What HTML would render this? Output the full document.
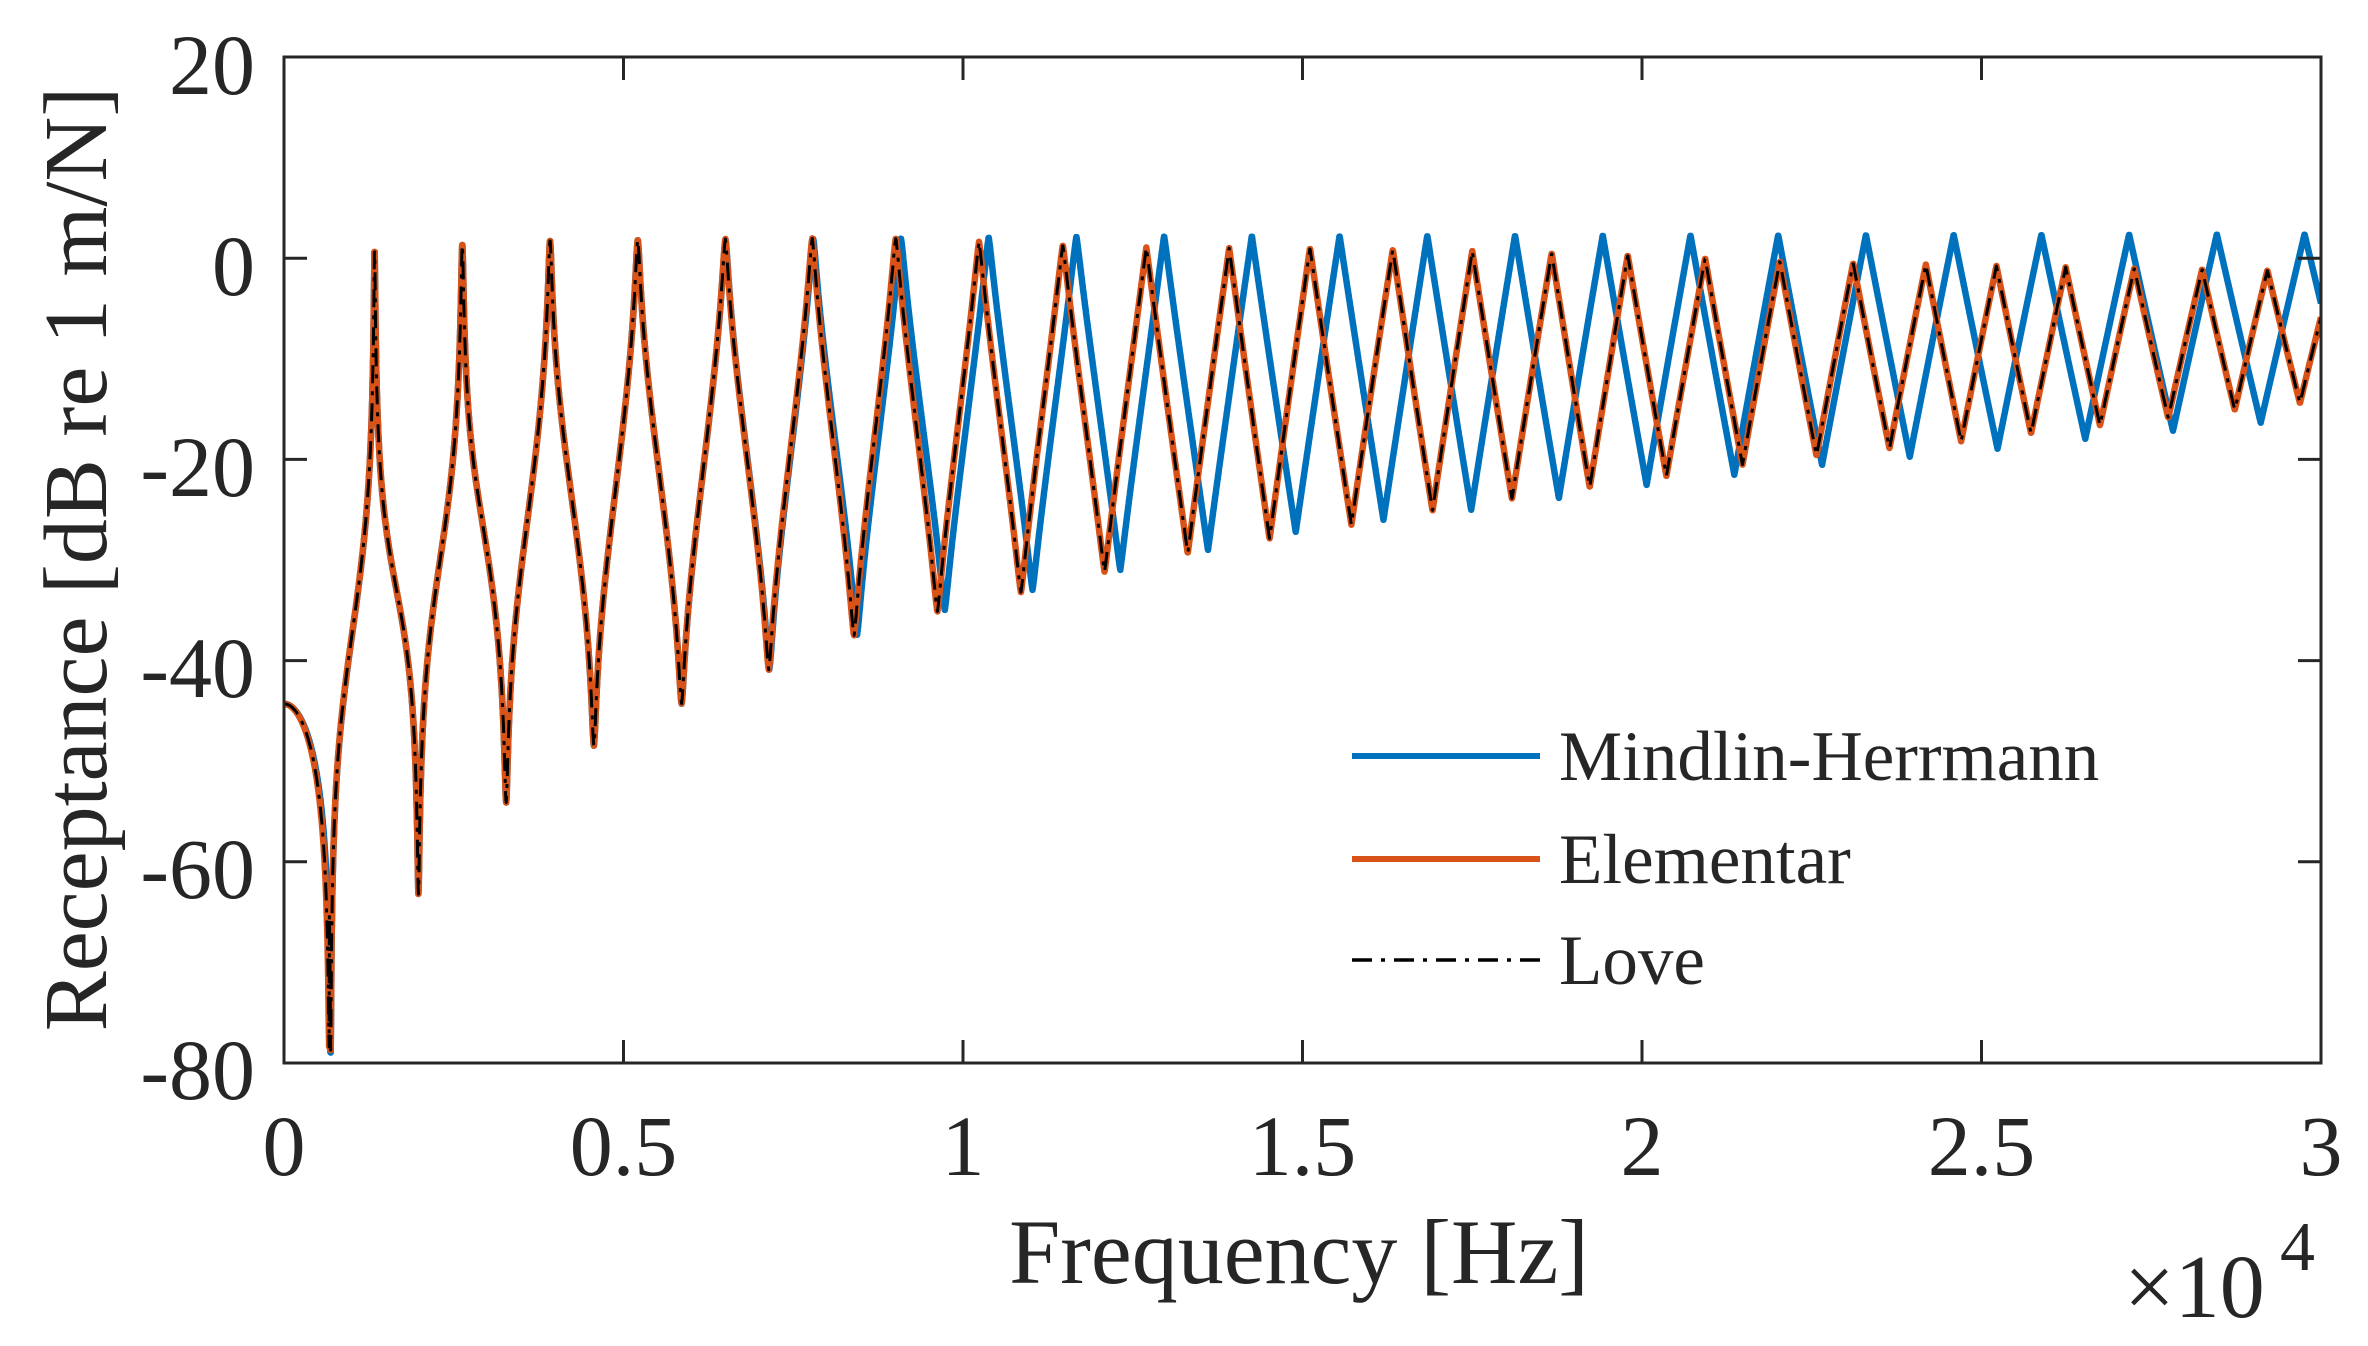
<!DOCTYPE html>
<html><head><meta charset="utf-8">
<style>
html,body{margin:0;padding:0;background:#fff;}
svg{display:block;}
text{font-family:"Liberation Serif","Times New Roman",serif;fill:#262626;}
</style></head>
<body>
<svg id="s" width="2368" height="1346" viewBox="0 0 2368 1346" xmlns="http://www.w3.org/2000/svg">
<rect width="2368" height="1346" fill="#fff"/>
<defs><clipPath id="c"><rect x="284" y="57" width="2037" height="1006"/></clipPath></defs>
<g id="curves" clip-path="url(#c)"></g>
<rect x="284" y="57" width="2037" height="1006" fill="none" stroke="#262626" stroke-width="3"/>
<g id="ticks" stroke="#262626" stroke-width="3"></g>
<g font-size="86" text-anchor="end">
<text x="255" y="94">20</text>
<text x="255" y="295">0</text>
<text x="255" y="496">-20</text>
<text x="255" y="697">-40</text>
<text x="255" y="898">-60</text>
<text x="255" y="1099">-80</text>
</g>
<g font-size="86" text-anchor="middle">
<text x="284" y="1175">0</text>
<text x="623.5" y="1175">0.5</text>
<text x="963" y="1175">1</text>
<text x="1302.5" y="1175">1.5</text>
<text x="1642" y="1175">2</text>
<text x="1981.5" y="1175">2.5</text>
<text x="2321" y="1175">3</text>
</g>
<text x="1299" y="1283" font-size="92" text-anchor="middle">Frequency [Hz]</text>
<text x="2124" y="1317" font-size="90">×10</text>
<text x="2280" y="1270" font-size="70">4</text>
<text transform="translate(106,559) rotate(-90)" font-size="90" text-anchor="middle">Receptance [dB re 1 m/N]</text>
<line x1="1352" y1="756" x2="1540" y2="756" stroke="#0072BD" stroke-width="6"/>
<line x1="1352" y1="859" x2="1540" y2="859" stroke="#D95319" stroke-width="6"/>
<line x1="1352" y1="960" x2="1540" y2="960" stroke="#000" stroke-width="3.5" stroke-dasharray="20,9,4,9"/>
<g font-size="71">
<text x="1559" y="780">Mindlin-Herrmann</text>
<text x="1559" y="883">Elementar</text>
<text x="1559" y="984">Love</text>
</g>
</svg>
<script>
(function(){
var NS="http://www.w3.org/2000/svg";
function X(f){return 284+f/30000*2037;}
function Y(d){return 57+(20-d)*10.06;}
function interp(t,x){
  if(x<=t[0][0])return t[0][1];
  for(var i=1;i<t.length;i++){if(x<=t[i][0]){var a=t[i-1],b=t[i];return a[1]+(b[1]-a[1])*(x-a[0])/(b[0]-a[0]);}}
  var a=t[t.length-2],b=t[t.length-1];return b[1]+(b[1]-a[1])*(x-b[0])/(b[0]-a[0]);
}
var dipE=[[0.0667,-79],[0.198,-63.2],[0.325,-54.2],[0.455,-48.5],[0.585,-44.3],[0.71,-41],[0.84,-37.5],[0.97,-35],[1.1,-33],[1.22,-31],[1.34,-29.2],[1.46,-27.8],[1.58,-26.4],[1.7,-25],[1.82,-23.8],[1.95,-22.5],[2.07,-21.3],[2.2,-20],[2.35,-19],[2.5,-18],[2.65,-16.8],[2.77,-15.9],[2.87,-15.1],[2.97,-14.4],[3.0,-14.2]];
var dipM=[[0.0685,-79],[0.198,-63.2],[0.325,-54.2],[0.455,-48.5],[0.585,-44.3],[0.71,-41],[0.84,-37.5],[0.97,-35],[1.1,-33],[1.23,-31],[1.36,-29],[1.49,-27.2],[1.62,-26],[1.75,-25],[1.88,-23.8],[2.01,-22.5],[2.14,-21.5],[2.27,-20.5],[2.4,-19.7],[2.53,-18.9],[2.66,-17.9],[2.79,-17.1],[2.92,-16.3],[3.0,-16]];
var pkE=[[0,1.0],[0.13,1.0],[0.26,1.4],[0.4,1.8],[0.9,2.0],[1.03,1.6],[1.15,1.3],[1.3,1.0],[1.51,1.0],[1.7,0.8],[1.98,0.3],[2.24,-0.4],[2.62,-0.9],[2.92,-1.2],[3.0,-1.3]];
var pkM=[[0,1.0],[0.13,1.0],[0.26,1.4],[0.4,1.8],[0.9,2.0],[1.2,2.2],[3.0,2.4]];
var peE=[1334,2626,3918,5210,6500,7780,9010,10236,11470,12700,13920,15110,16330,17500,18670,19790,20930,22030,23110,24180,25220,26240,27250,28250,29210,30170];
var tE=[[0,-0.532]];for(var i=0;i<peE.length;i++)tE.push([peE[i],i+0.5]);
function uE(f){return interp(tE,f);}
function uM(f){return (f-1334)/1292+0.5;}
function val(f,uf,dip,pk,f0){
  var x=f/1e4;
  if(f<f0){
    var d0=Math.pow(10,-34.7/20);var c=Math.cos(Math.PI*f/(2*f0));
    return -44.3+20*Math.log10(Math.sqrt(c*c+d0*d0));
  }
  var D=interp(dip,x),P=interp(pk,x);
  var half=(P-D)/2,base=(P+D)/2;
  var d=Math.pow(10,-half/20);
  var u=uf(f);var s=Math.sin(Math.PI*u),c2=Math.cos(Math.PI*u);
  var lg=base+20*Math.log10(Math.sqrt(s*s+d*d)/Math.sqrt(c2*c2+d*d));
  var fr=u-Math.round(u);var tri=D+(P-D)*2*Math.abs(fr);
  var w=Math.max(0,Math.min(1,(half-15)/15));
  return w*lg+(1-w)*tri;
}
function path(uf,dip,pk,f0){
  var p=[];
  for(var f=0;f<=30000;f+=4){
    var v=val(f,uf,dip,pk,f0);
    p.push((p.length?"L":"M")+X(f).toFixed(1)+" "+Y(v).toFixed(1));
  }
  return p.join("");
}
var g=document.getElementById("curves");
function add(d,col,w,dash){var e=document.createElementNS(NS,"path");e.setAttribute("d",d);e.setAttribute("fill","none");e.setAttribute("stroke",col);e.setAttribute("stroke-width",w);e.setAttribute("stroke-linejoin","round");if(dash)e.setAttribute("stroke-dasharray",dash);g.appendChild(e);}
var dM=path(uM,dipM,pkM,685),dE=path(uE,dipE,pkE,667);
add(dM,"#0072BD",6.5);
add(dE,"#D95319",6.5);
add(dE,"#000",3,"18,8,4,8");
var t=document.getElementById("ticks");
function ln(a,b,c,d){var e=document.createElementNS(NS,"line");e.setAttribute("x1",a);e.setAttribute("y1",b);e.setAttribute("x2",c);e.setAttribute("y2",d);t.appendChild(e);}
for(var i=0;i<=6;i++){var x=284+i*339.5;ln(x,1063,x,1040);ln(x,57,x,80);}
for(var j=0;j<=5;j++){var y=57+j*201.2;ln(284,y,307,y);ln(2321,y,2298,y);}
})();
</script>
</body></html>
